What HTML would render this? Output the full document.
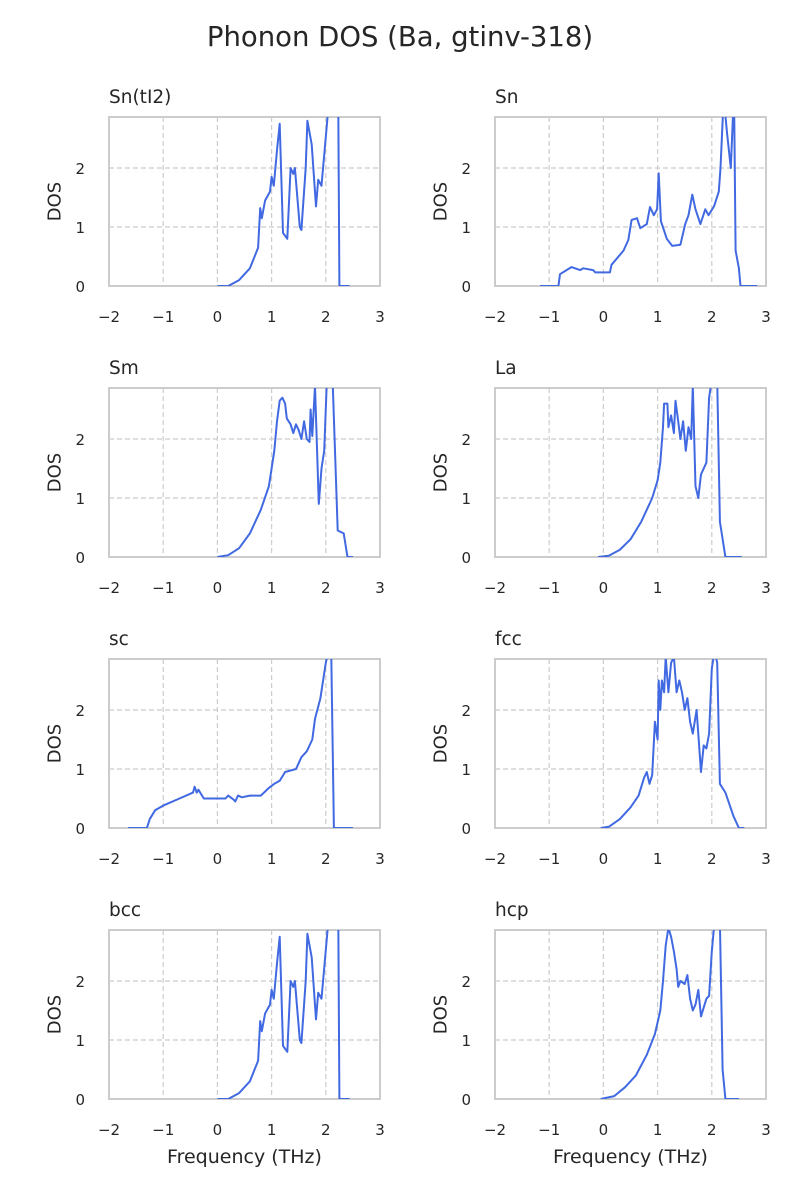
<!DOCTYPE html>
<html><head><meta charset="utf-8"><style>
body{margin:0;background:#fff;}
svg{display:block;font-family:"DejaVu Sans","Liberation Sans",sans-serif;}
</style></head><body>
<svg id="c" width="800" height="1200"></svg>
<script>
const titles=["Sn(tI2)","Sn","Sm","La","sc","fcc","bcc","hcp"];
const xTicks=[-2,-1,0,1,2,3];
const xTickLabels=["\u22122","\u22121","0","1","2","3"];
const yTicks=[0,1,2];
const snti2Freq=[0,0.2,0.4,0.6,0.75,0.79,0.82,0.88,0.97,1.0,1.04,1.1,1.15,1.21,1.29,1.35,1.4,1.43,1.52,1.55,1.63,1.66,1.74,1.82,1.86,1.92,2.04,2.23,2.25,2.44];
const snti2Dos=[0,0,0.1,0.3,0.65,1.32,1.15,1.45,1.6,1.85,1.7,2.3,2.75,0.9,0.8,2.0,1.9,2.0,1.0,0.95,2.0,2.8,2.4,1.35,1.8,1.7,2.95,3.0,0,0];
const snFreq=[-1.17,-0.83,-0.8,-0.59,-0.43,-0.37,-0.19,-0.15,0.12,0.15,0.37,0.46,0.52,0.62,0.68,0.8,0.86,0.93,0.99,1.02,1.06,1.17,1.27,1.42,1.51,1.57,1.64,1.7,1.79,1.88,1.94,2.04,2.13,2.16,2.22,2.28,2.35,2.41,2.44,2.5,2.53,2.84];
const snDos=[0,0,0.2,0.32,0.27,0.3,0.27,0.23,0.23,0.36,0.6,0.78,1.12,1.15,0.98,1.05,1.34,1.2,1.3,1.91,1.1,0.8,0.68,0.7,1.05,1.2,1.55,1.3,1.05,1.3,1.2,1.35,1.6,2.0,3.2,2.6,2.0,3.3,0.6,0.3,0,0];
const smFreq=[0,0.2,0.4,0.6,0.8,0.95,1.05,1.1,1.15,1.2,1.25,1.28,1.35,1.4,1.45,1.5,1.55,1.6,1.65,1.7,1.72,1.75,1.8,1.87,1.92,1.97,2.02,2.13,2.22,2.33,2.4,2.5];
const smDos=[0,0.03,0.15,0.4,0.8,1.2,1.8,2.3,2.65,2.7,2.6,2.35,2.25,2.1,2.25,2.15,2.0,2.3,2.0,1.95,2.5,2.05,2.9,0.9,1.5,1.8,3.0,2.9,0.45,0.4,0,0];
const laFreq=[-0.1,0.1,0.3,0.5,0.7,0.9,1.0,1.05,1.1,1.12,1.18,1.2,1.25,1.3,1.33,1.38,1.42,1.47,1.52,1.57,1.62,1.65,1.7,1.75,1.8,1.9,1.95,2.0,2.1,2.15,2.25,2.55];
const laDos=[0,0.02,0.12,0.3,0.6,1.0,1.3,1.6,2.2,2.6,2.6,2.2,2.4,2.1,2.65,2.3,2.0,2.3,1.8,2.2,2.0,2.9,1.2,1.0,1.4,1.6,2.7,3.0,3.0,0.6,0,0];
const scFreq=[-1.65,-1.3,-1.25,-1.15,-1.0,-0.7,-0.45,-0.42,-0.38,-0.35,-0.25,0,0.15,0.2,0.3,0.33,0.38,0.45,0.6,0.8,0.95,1.05,1.15,1.25,1.45,1.55,1.65,1.75,1.8,1.9,1.95,2.0,2.05,2.1,2.15,2.5];
const scDos=[0,0,0.15,0.3,0.38,0.5,0.6,0.7,0.6,0.65,0.5,0.5,0.5,0.55,0.48,0.45,0.55,0.52,0.55,0.55,0.68,0.75,0.8,0.95,1.0,1.2,1.3,1.5,1.85,2.2,2.5,2.8,3.0,3.0,0,0];
const fccFreq=[-0.05,0.1,0.3,0.5,0.65,0.75,0.8,0.85,0.9,0.95,1.0,1.02,1.05,1.08,1.12,1.15,1.2,1.25,1.3,1.35,1.4,1.45,1.5,1.55,1.6,1.65,1.72,1.8,1.85,1.9,1.95,2.0,2.05,2.1,2.15,2.25,2.4,2.5,2.6];
const fccDos=[0,0.02,0.15,0.35,0.55,0.85,0.95,0.75,0.9,1.8,1.5,2.5,2.0,2.5,2.3,2.9,2.3,2.8,2.9,2.3,2.5,2.3,2.0,2.2,1.8,1.6,2.0,0.95,1.4,1.35,1.6,2.7,3.0,2.8,0.75,0.6,0.2,0,0];
const hcpFreq=[-0.05,0.2,0.4,0.6,0.8,0.95,1.05,1.1,1.15,1.2,1.25,1.3,1.35,1.38,1.42,1.5,1.55,1.6,1.65,1.7,1.75,1.8,1.85,1.9,1.95,2.0,2.05,2.15,2.2,2.25,2.5];
const hcpDos=[0,0.05,0.2,0.4,0.75,1.1,1.5,2.0,2.6,2.9,2.75,2.5,2.2,1.9,2.0,1.95,2.1,1.7,1.5,1.6,1.85,1.4,1.55,1.7,1.75,2.5,3.0,3.0,0.5,0,0];
const freqs=[snti2Freq,snFreq,smFreq,laFreq,scFreq,fccFreq,snti2Freq,hcpFreq];
const doses=[snti2Dos,snDos,smDos,laDos,scDos,fccDos,snti2Dos,hcpDos];

const NS="http://www.w3.org/2000/svg";
const svg=document.getElementById('c');
function mk(tag,attrs,parent){const e=document.createElementNS(NS,tag);for(const k in attrs)e.setAttribute(k,attrs[k]);(parent||svg).appendChild(e);return e;}
const W=271,H=169,XMIN=-2,XMAX=3,YMAX=2.865;
const lefts=[109,495],tops=[117,388,659,930];
const sup=mk('text',{x:400,y:46,'text-anchor':'middle','font-size':'27.5',fill:'#262626'});
sup.textContent='Phonon DOS (Ba, gtinv-318)';


const defs=mk('defs',{});
for(let i=0;i<8;i++){
  const x0=lefts[i%2],y0=tops[Math.floor(i/2)];
  const sx=v=>x0+(v-XMIN)/(XMAX-XMIN)*W;
  const sy=v=>y0+H-v/YMAX*H;
  const g=mk('g',{});
  
  
  const cp=mk('clipPath',{id:'cp'+i},defs);mk('rect',{x:x0,y:y0,width:W,height:H},cp);
  xTicks.forEach((t,j)=>{
    if(j>0&&j<xTicks.length-1){const l=mk('line',{x1:sx(t),x2:sx(t),y1:y0,y2:y0+H,stroke:'#cccccc','stroke-width':1.2,'stroke-dasharray':'5,3'},g);}
    const tl=mk('text',{x:sx(t),y:y0+H+36,'text-anchor':'middle','font-size':'15',fill:'#262626'},g);
    tl.textContent=xTickLabels[j];
    
    
  });
  yTicks.forEach(t=>{
    const l=mk('line',{x1:x0,x2:x0+W,y1:sy(t),y2:sy(t),stroke:'#cccccc','stroke-width':1.2,'stroke-dasharray':'5,3'},g);
    
    
    const tl=mk('text',{x:x0-24,y:sy(t)+6,'text-anchor':'end','font-size':'15',fill:'#262626'},g);
    tl.textContent=String(t);
    
    
  });
  const fr=mk('rect',{x:x0,y:y0,width:W,height:H,fill:'none',stroke:'#cccccc','stroke-width':2},g);
  
  
  const pts=freqs[i].map((f,k)=>sx(f).toFixed(1)+','+sy(doses[i][k]).toFixed(1)).join(' ');
  const pl=mk('polyline',{points:pts,fill:'none',stroke:'#4169e1','stroke-width':2,'stroke-linejoin':'round','clip-path':'url(#cp'+i+')'},g);
  
  
  const tt=mk('text',{x:x0,y:y0-14,'font-size':'18.5',fill:'#262626'},g);
  tt.textContent=titles[i];
  
  
  const yl=mk('text',{x:0,y:0,'text-anchor':'middle','font-size':'18','dominant-baseline':'central',fill:'#262626',transform:'translate('+(x0-54)+','+(y0+H/2)+') rotate(-90)'},g);
  yl.textContent='DOS';
  
  
  if(i>=6){
    const xl=mk('text',{x:x0+W/2,y:y0+H+64,'text-anchor':'middle','font-size':'19',fill:'#262626'},g);
    xl.textContent='Frequency (THz)';
    
    
  }
}
</script>
</body></html>
